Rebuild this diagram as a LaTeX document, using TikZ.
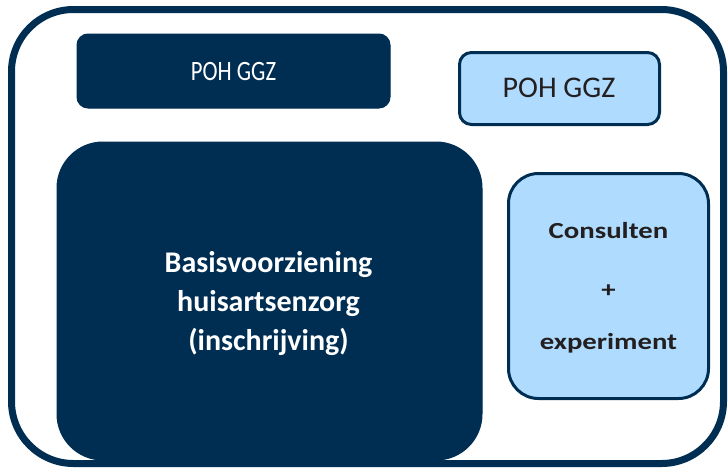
\documentclass[tikz,border=0pt]{standalone}
\usepackage{fontspec}
\setmainfont{Carlito}
\definecolor{navy}{HTML}{002E53}
\definecolor{lightblue}{HTML}{AFDCFE}
\definecolor{ink}{HTML}{231F20}
\begin{document}
\begin{tikzpicture}[x=1pt,y=-1pt,
  darkbox/.style={fill=navy,draw=navy,line width=1pt,rounded corners=#1,inner sep=0pt},
  lightbox/.style={fill=lightblue,draw=navy,line width=3pt,rounded corners=#1,inner sep=0pt},
  txt/.style={inner sep=0pt,anchor=base}]
\useasboundingbox (0,0) rectangle (728,469);
\draw[navy,line width=7pt,rounded corners=62pt] (11.5,9.5) rectangle (723.5,463.5);
% top dark box
\path[darkbox=11pt] (77,34) rectangle (390,108);
\node[txt,text=white,font=\fontsize{28}{30}\selectfont] (t1) at (233.5,80) {\scalebox{0.81}[1]{POH GGZ}};
% light POH GGZ
\path[lightbox=12pt] (459.5,52.5) rectangle (659.5,124.5);
\node[txt,text=ink,font=\fontsize{30}{32}\selectfont] (t2) at (559,97) {POH GGZ};
% big dark box
\path[darkbox=46pt] (57,142) rectangle (482,460);
\node[inner sep=0pt,anchor=base,text=white,align=center,font=\bfseries\fontsize{30}{39}\selectfont] (t3) at (268.5,350) {Basisvoorziening\\huisartsenzorg\\(inschrijving)};
% consult box
\path[lightbox=30pt] (508.5,173.5) rectangle (708.5,398.5);
\node[txt,text=ink,font=\bfseries\fontsize{23}{25}\selectfont] (c1) at (608.5,238) {\scalebox{1.25}[1]{Consulten}};
\node[txt,text=ink,font=\bfseries\fontsize{23}{25}\selectfont] (c2) at (608.5,297) {\scalebox{1.25}[1]{+}};
\node[txt,text=ink,font=\bfseries\fontsize{23}{25}\selectfont] (c3) at (608.5,349) {\scalebox{1.25}[1]{experiment}};
\end{tikzpicture}
\end{document}
